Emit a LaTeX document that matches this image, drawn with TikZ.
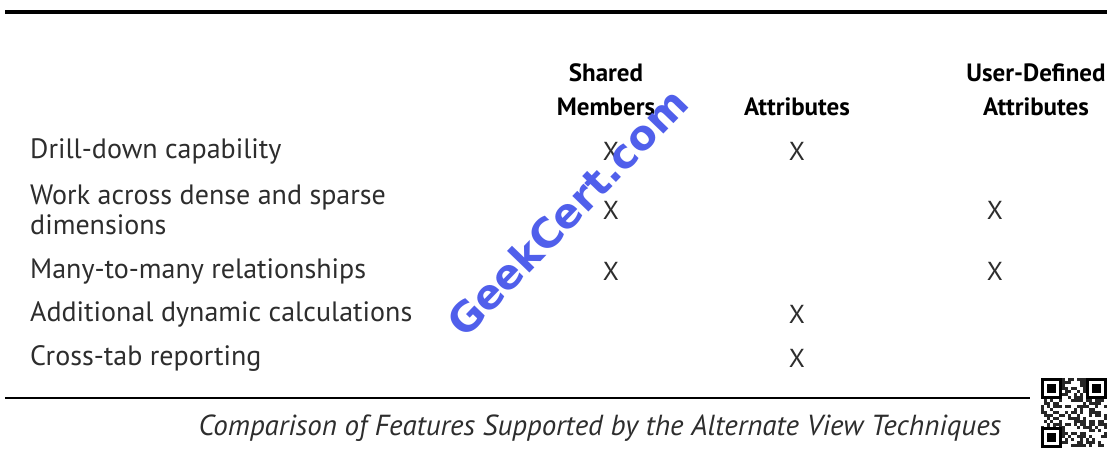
\documentclass[tikz,border=0pt]{standalone}
\usepackage{fontspec}
\setmainfont{PT Sans}
\newfontfamily\markfont{DejaVu Sans}
\definecolor{inkgray}{RGB}{45,45,45}
\definecolor{markblue}{RGB}{80,95,235}

\begin{document}
\begin{tikzpicture}[x=1pt, y=-1pt]
	\tikzstyle{Row} = [anchor=west, inner sep=0pt, text=inkgray, font=\fontsize{28}{30}\selectfont]
	\tikzstyle{Head} = [align=center, inner sep=0pt, font=\bfseries\fontsize{25}{34}\selectfont]
	\tikzstyle{Mark} = [inner sep=0pt, text=inkgray, font=\fontsize{26}{28}\selectfont]
	\tikzstyle{Rule} = [draw=black]
	
	\useasboundingbox[fill=white] (0,0) rectangle (1112,451);
	
	% rules
	\coordinate (r0) at (5,12);
	\coordinate (r1) at (1107,12);
	\coordinate (r2) at (5,398);
	\coordinate (r3) at (1030,398);
	\draw[Rule, line width=4pt] (r0) -- (r1);
	\draw[Rule, line width=1.6pt] (r2) -- (r3);
	
	% column heads
	\node[name=h1, Head] at (606,90) {Shared\\Members};
	\node[name=h2, Head] at (797,90) {\phantom{A}\\Attributes};
	\node[name=h3, Head] at (1036,90) {User-Defined\\Attributes};
	
	% features
	\node[name=f1, Row] at (30,151) {Drill-down capability};
	\node[name=f2, Row, align=left] at (30,210) {Work across dense and sparse\\dimensions};
	\node[name=f3, Row] at (30,271) {Many-to-many relationships};
	\node[name=f4, Row] at (30,314) {Additional dynamic calculations};
	\node[name=f5, Row] at (30,358) {Cross-tab reporting};
	
	% marks
	\coordinate (c1) at (611,0);
	\coordinate (c2) at (797,0);
	\coordinate (c3) at (995,0);
	\node[name=x11, Mark] at (c1 |- f1) {X};
	\node[name=x12, Mark] at (c2 |- f1) {X};
	\node[name=x21, Mark] at (c1 |- f2) {X};
	\node[name=x23, Mark] at (c3 |- f2) {X};
	\node[name=x31, Mark] at (c1 |- f3) {X};
	\node[name=x33, Mark] at (c3 |- f3) {X};
	\node[name=x42, Mark] at (c2 |- f4) {X};
	\node[name=x52, Mark] at (c2 |- f5) {X};
	
	% caption
	\node[name=cap, inner sep=0pt, text=inkgray, font=\itshape\fontsize{29}{31}\selectfont] at (600,428) {Comparison of Features Supported by the Alternate View Techniques};
	
	% watermark
	\node[name=wm, rotate=46, text=markblue, font=\markfont\bfseries\fontsize{41}{41}\selectfont] at (567,212) {GeekCert.com};
	
	% qr code
	\pgfmathsetseed{11}
	\foreach \i in {0,...,21}{
		\foreach \j in {0,...,22}{
			\pgfmathrandominteger{\b}{0}{1}
			\ifnum\b=1 \fill[black!85] (1041+3*\i,378+3*\j) rectangle ++(3,3); \fi
		}
	}
	\foreach \qx/\qy in {1041/378, 1086/378, 1041/427}{
		\fill[white] (\qx,\qy) rectangle ++(21,21);
		\draw[black, line width=3pt] (\qx+1.5,\qy+1.5) rectangle ++(18,18);
		\fill[black] (\qx+6,\qy+6) rectangle ++(9,9);
	}
\end{tikzpicture}
\end{document}
